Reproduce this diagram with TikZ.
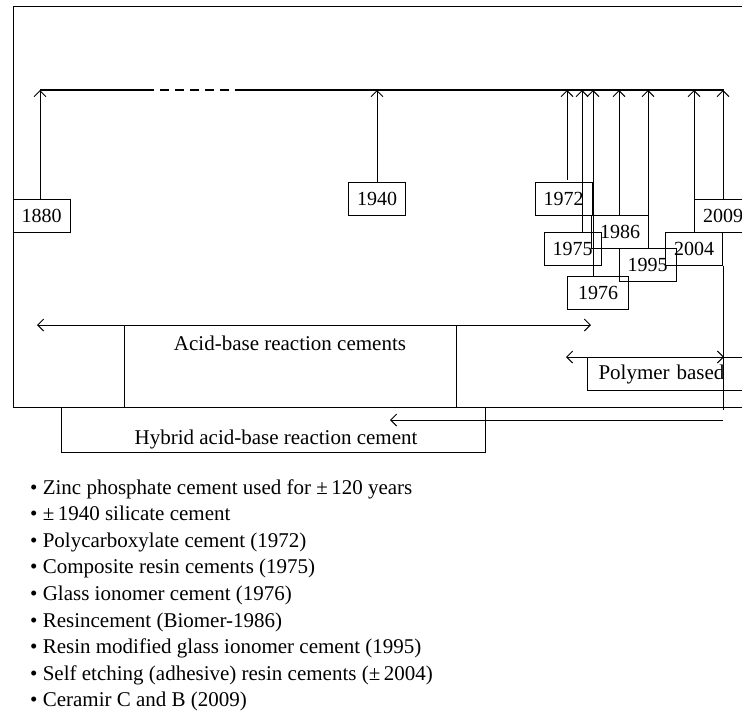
\documentclass[tikz,border=0pt]{standalone}
\usepackage{fontspec}
\setmainfont{Liberation Serif}
\usetikzlibrary{arrows.meta}

\begin{document}
\begin{tikzpicture}[
    x=1pt, y=-1pt,
    every node/.style={
        font=\fontsize{21}{25}\selectfont,
        inner sep=0pt
    },
    yearbox/.style={draw, line width=1pt, minimum width=57pt, minimum height=33pt,
        font=\fontsize{20}{24}\selectfont},
    bandbox/.style={draw, line width=1pt},
    yeararrow/.style={line width=1pt, -{Straight Barb[length=6pt,width=12pt]}},
    rangearrow/.style={line width=1pt,
        {Straight Barb[length=6pt,width=12pt]}-{Straight Barb[length=6pt,width=12pt]}}
    ]
    \useasboundingbox (0,0) rectangle (742,710);
    \clip (0,0) rectangle (742,710);

    % Frame
    \draw[line width=1pt] (13,6) rectangle (780,407);

    % Time line
    \coordinate (tlStart) at (40,90);
    \coordinate (gapA) at (145,90);
    \coordinate (gapB) at (238,90);
    \coordinate (tlEnd) at (724,90);
    \draw[line width=2.2pt] (tlStart) -- (gapA);
    \draw[line width=1.3pt, dash pattern=on 9pt off 6pt] (gapA) -- (gapB);
    \draw[line width=2.2pt] (gapB) -- (tlEnd);

    % Points on the time line
    \coordinate (t1880) at (40,90);
    \coordinate (t1940) at (377,90);
    \coordinate (t1972) at (567,90);
    \coordinate (t1975) at (582,90);
    \coordinate (t1976) at (593,90);
    \coordinate (t1986) at (619,90);
    \coordinate (t1995) at (648,90);
    \coordinate (t2004) at (694,90);
    \coordinate (t2009) at (723,90);

    % Year boxes
    \node[yearbox] (b1880) at (41.5,215.5) {1880};
    \node[yearbox] (b1940) at (377,199) {1940};
    \node[yearbox] (b1972) at (563.5,199) {1972};
    \node[yearbox] (b1975) at (572.5,248.5) {1975};
    \node[yearbox, minimum width=61pt] (b1976) at (598,292.5) {1976};
    \node[yearbox] (b1986) at (620,232) {1986};
    \node[yearbox] (b1995) at (647.5,265) {1995};
    \node[yearbox] (b2004) at (694,248.5) {2004};
    \node[yearbox] (b2009) at (723,215.5) {2009};

    % Year arrows
    \foreach \yr in {1880,1940,1975,1976,1986,1995,2004,2009}
    \draw[yeararrow] (b\yr.north -| t\yr) -- (t\yr);
    \coordinate (s1972) at (567,180);
    \draw[yeararrow] (s1972) -- (t1972);

    % Acid-base reaction cements
    \node[bandbox, minimum width=332pt, minimum height=82pt] (acid) at (290,366) {};
    \node (acidtxt) at (290,343) {Acid-base reaction cements};
    \coordinate (acidL) at (37,325);
    \coordinate (acidR) at (591,325);
    \draw[rangearrow] (acidL) -- (acidR);

    % Polymer based
    \node[bandbox, anchor=north west, minimum height=33pt, text width=200pt,
        align=left, inner xsep=11pt] (poly) at (587,357) {Polymer based};
    \coordinate (polyL) at (566,357);
    \coordinate (polyR) at (724,357);
    \draw[rangearrow] (polyL) -- (polyR);

    % Hybrid acid-base reaction cement
    \node[bandbox, minimum width=424pt, minimum height=45pt] (hybrid) at (273,429.5) {};
    \node (hybridtxt) at (276,439) {Hybrid acid-base reaction cement};
    \coordinate (drop) at (723.5,410);
    \draw[line width=1pt] (b2004.south east) ++(0.5,0) -- (drop);
    \coordinate (hybR) at (723,420);
    \coordinate (hybL) at (390,420);
    \draw[yeararrow] (hybR) -- (hybL);

    % List
    \foreach \txt [count=\i] in {
        {Zinc phosphate cement used for ±\,120 years},
        {±\,1940 silicate cement},
        {Polycarboxylate cement (1972)},
        {Composite resin cements (1975)},
        {Glass ionomer cement (1976)},
        {Resincement (Biomer-1986)},
        {Resin modified glass ionomer cement (1995)},
        {Self etching (adhesive) resin cements (±\,2004)},
        {Ceramir C and B (2009)}}
    \node[anchor=base west] (item\i) at (30,{494+26.6*(\i-1)}) {\textbullet\ \txt};
\end{tikzpicture}
\end{document}
